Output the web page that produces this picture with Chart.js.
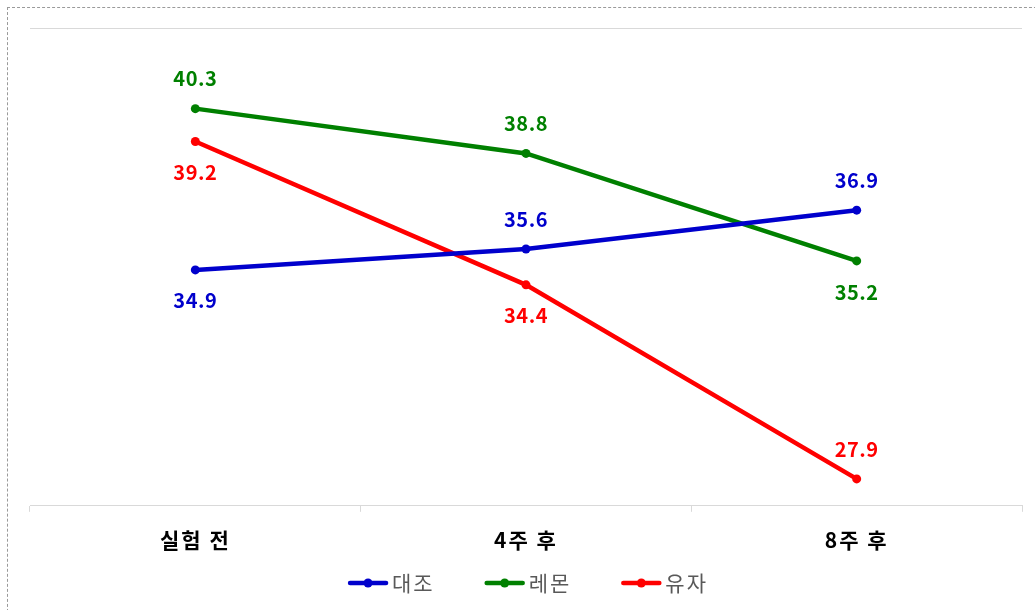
<!DOCTYPE html>
<html lang="ko">
<head>
<meta charset="utf-8">
<title>측정 결과</title>
<script src="https://cdn.jsdelivr.net/npm/chart.js@4/dist/chart.umd.min.js"></script>
<style>
  html, body { margin: 0; padding: 0; background: #fff; overflow: hidden; }
  #wrap { position: relative; width: 1035px; height: 610px; }
  #frame {
    position: absolute; left: 7px; top: 7px; width: 1040px; height: 620px;
    border: 1px dashed #9a9a9a; box-sizing: border-box;
  }
  #graph { position: absolute; left: 0; top: 0; }
</style>
</head>
<body>
<div id="wrap">
  <div id="frame"></div>
  <canvas id="graph" width="1035" height="610"></canvas>
</div>
<script>
const categories = ["실험 전", "4주 후", "8주 후"];
const controlValues = [34.9, 35.6, 36.9];
const lemonValues = [40.3, 38.8, 35.2];
const yuzuValues = [39.2, 34.4, 27.9];
const yMin = 27;
const yMax = 43;

const FONT = "'Noto Sans CJK KR', 'Noto Sans', sans-serif";

// value labels above / below each point
const valueLabels = {
  id: "valueLabels",
  afterDatasetsDraw(chart) {
    const ctx = chart.ctx;
    chart.data.datasets.forEach((ds, i) => {
      const meta = chart.getDatasetMeta(i);
      meta.data.forEach((pt, j) => {
        const dy = ds.labelSide[j] === "above" ? -30 : 31;
        ctx.save();
        ctx.font = "bold 20px " + FONT;
        ctx.letterSpacing = "0.5px";
        ctx.fillStyle = ds.borderColor;
        ctx.textAlign = "center";
        ctx.textBaseline = "middle";
        ctx.fillText(ds.data[j].toFixed(1), pt.x, pt.y + dy);
        ctx.restore();
      });
    });
  },
};

// legend: short line with a dot, then the series name
const lineLegend = {
  id: "lineLegend",
  afterDraw(chart) {
    const ctx = chart.ctx;
    const area = chart.chartArea;
    const y = 583;
    const lineW = 40;
    const gap = 4;
    const spacing = 50;
    ctx.save();
    ctx.font = "21px " + FONT;
    ctx.letterSpacing = "2px";
    const widths = chart.data.datasets.map((ds) => ctx.measureText(ds.label).width);
    let total = 0;
    widths.forEach((w, i) => {
      total += lineW + gap + w + (i < widths.length - 1 ? spacing : 0);
    });
    let x = (area.left + area.right) / 2 - total / 2 + 2;
    chart.data.datasets.forEach((ds, i) => {
      ctx.strokeStyle = ds.borderColor;
      ctx.fillStyle = ds.borderColor;
      ctx.lineWidth = 4.5;
      ctx.lineCap = "round";
      ctx.beginPath();
      ctx.moveTo(x + 2, y);
      ctx.lineTo(x + lineW - 2, y);
      ctx.stroke();
      ctx.beginPath();
      ctx.arc(x + lineW / 2, y, 4.5, 0, Math.PI * 2);
      ctx.fill();
      ctx.fillStyle = "#595959";
      ctx.textAlign = "left";
      ctx.textBaseline = "middle";
      ctx.fillText(ds.label, x + lineW + gap, y);
      x += lineW + gap + widths[i] + spacing;
    });
    ctx.restore();
  },
};

// wider letter spacing for the category labels
const tickSpacing = {
  id: "tickSpacing",
  beforeDraw(chart) {
    chart.ctx.letterSpacing = "2px";
  },
  afterDraw(chart) {
    chart.ctx.letterSpacing = "0px";
  },
};

function series(label, data, color, labelSide) {
  return {
    label: label,
    data: data,
    borderColor: color,
    backgroundColor: color,
    borderWidth: 4.5,
    pointRadius: 4.5,
    pointHoverRadius: 4.5,
    pointBackgroundColor: color,
    pointBorderWidth: 0,
    tension: 0,
    labelSide: labelSide,
  };
}

const ctx = document.getElementById("graph").getContext("2d");
new Chart(ctx, {
  type: "line",
  data: {
    labels: categories,
    datasets: [
      series("대조", controlValues, "#0000cc", ["below", "above", "above"]),
      series("레몬", lemonValues, "#008000", ["above", "above", "below"]),
      series("유자", yuzuValues, "#ff0000", ["below", "below", "above"]),
    ],
  },
  options: {
    responsive: false,
    animation: false,
    layout: { padding: { left: 30, right: 13, top: 28, bottom: 41 } },
    plugins: {
      legend: { display: false },
      tooltip: { enabled: false },
    },
    scales: {
      x: {
        offset: true,
        grid: {
          offset: true,
          drawOnChartArea: false,
          drawTicks: true,
          tickLength: 6,
          color: "#d9d9d9",
          lineWidth: 1,
        },
        border: { display: true, color: "#d9d9d9", width: 1 },
        ticks: {
          padding: 16,
          color: "#000",
          font: { family: FONT, size: 21, weight: "bold" },
        },
      },
      y: {
        min: yMin,
        max: yMax,
        ticks: { display: false, stepSize: 16 },
        grid: { drawTicks: false, color: "#d9d9d9", lineWidth: 1 },
        border: { display: false },
      },
    },
  },
  plugins: [tickSpacing, valueLabels, lineLegend],
});
</script>
</body>
</html>
